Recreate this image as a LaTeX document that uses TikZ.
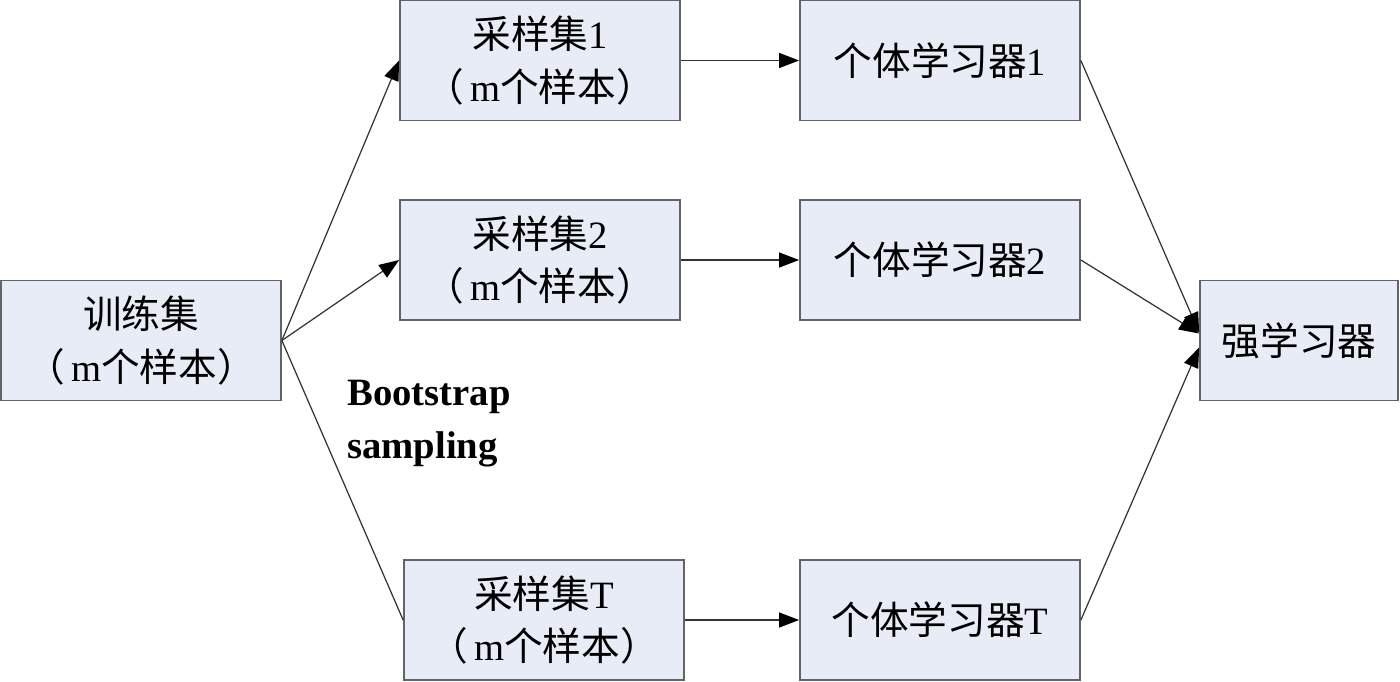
\documentclass[tikz,border=0pt]{standalone}
\usepackage{fontspec}
\setmainfont{Liberation Serif}
\newfontfamily\cjk{Noto Sans CJK SC}
\usetikzlibrary{arrows.meta}
\definecolor{boxfill}{RGB}{232,236,246}
\definecolor{boxline}{RGB}{100,100,100}

\begin{document}
\begin{tikzpicture}[
    every node/.style={font=\fontsize{11}{15}\selectfont},
    box/.style={draw=boxline, line width=0.5pt, fill=boxfill, minimum width=2.8cm,
      minimum height=1.2cm, align=center, inner sep=0pt},
    arr/.style={draw=black!80, line width=0.35pt,
      -{Triangle[length=0.2cm,width=0.15cm,color=black]}},
    plain/.style={draw=black!80, line width=0.35pt}]
  \useasboundingbox (0,0) rectangle (14,-6.81);
  % input set
  \node[box] (train) at (1.41,-3.405) {{\cjk 训练集}\\{\cjk （}\,m{\cjk 个样本）}};
  % bootstrap samples
  \node[box] (samp1) at (5.4,-0.605) {{\cjk 采样集}1\\{\cjk （}\,m{\cjk 个样本）}};
  \node[box] (samp2) at (5.4,-2.6) {{\cjk 采样集}2\\{\cjk （}\,m{\cjk 个样本）}};
  \node[box] (sampT) at (5.44,-6.2) {{\cjk 采样集}T\\{\cjk （}\,m{\cjk 个样本）}};
  % base learners
  \node[box] (lrn1) at (9.4,-0.605) {{\cjk 个体学习器}1};
  \node[box] (lrn2) at (9.4,-2.6) {{\cjk 个体学习器}2};
  \node[box] (lrnT) at (9.4,-6.2) {{\cjk 个体学习器}T};
  % combined learner
  \node[box, minimum width=1.98cm] (strong) at (12.99,-3.405) {\cjk 强学习器};
  % label
  \node[font=\fontsize{11}{15}\selectfont\bfseries, align=left, anchor=north west]
    (boot) at (3.35,-3.68) {Bootstrap\\sampling};
  % connectors
  \draw[arr] (train.east) -- (samp1.west);
  \draw[arr] (train.east) -- (samp2.west);
  \draw[plain] (train.east) -- (sampT.west);
  \draw[arr] (samp1) -- (lrn1);
  \draw[arr] (samp2) -- (lrn2);
  \draw[arr] (sampT) -- (lrnT);
  \draw[arr] (lrn1.east) -- ([yshift=0.08cm]strong.west);
  \draw[arr] (lrn2.east) -- ([yshift=0.07cm]strong.west);
  \draw[arr] (lrnT.east) -- ([yshift=-0.07cm]strong.west);
\end{tikzpicture}
\end{document}
